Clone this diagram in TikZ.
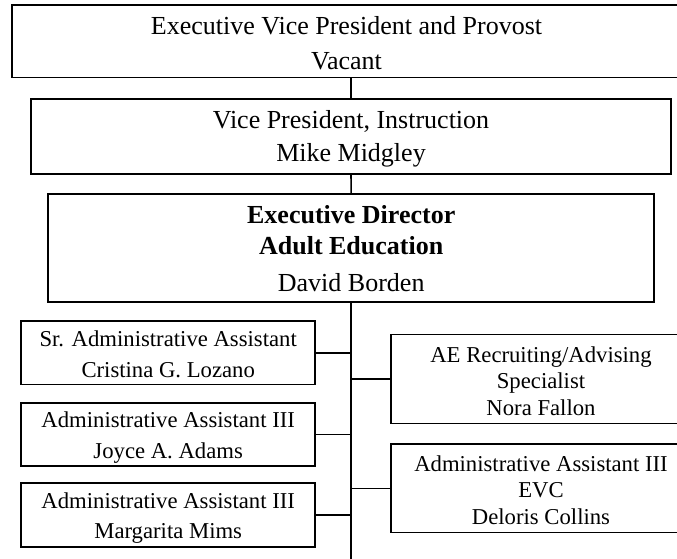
\documentclass[tikz,border=0pt]{standalone}
\usepackage{fontspec}
\setmainfont{Liberation Serif}
\newcommand{\topstrut}[1]{\rule{0pt}{#1}}
\begin{document}
\begin{tikzpicture}[x=1pt,y=-1pt,
  box/.style={draw=black, line width=1.6pt, rectangle, align=center, inner sep=0pt, outer sep=0pt},
  big/.style={box, font=\fontsize{26}{35}\selectfont},
  small/.style={box, font=\fontsize{22.7}{30.5}\selectfont},
  smallr/.style={box, font=\fontsize{22.7}{26.5}\selectfont},
  conn/.style={draw=black, line width=1.6pt}]
\useasboundingbox (0,0) rectangle (677,559);
\node[big, minimum width=669pt, minimum height=72.7pt] (evp) at (346.5,41.3)
  {\topstrut{20.8pt}Executive Vice President and Provost\\Vacant};
\node[big, font=\fontsize{26}{33}\selectfont, minimum width=640pt, minimum height=75pt] (vp) at (351,136.5)
  {\topstrut{22.8pt}Vice President, Instruction\\Mike Midgley};
\node[big, font=\fontsize{26}{31}\selectfont, minimum width=606pt, minimum height=108pt] (ed) at (351.2,248.2)
  {\textbf{Executive Director}\\\textbf{Adult Education}\\[6pt]David Borden};
\node[small, minimum width=294pt, minimum height=63.3pt] (sr) at (168.2,352.7)
  {\topstrut{18.5pt}Sr. Administrative Assistant\\Cristina G. Lozano};
\node[small, minimum width=294pt, minimum height=62.7pt] (ja) at (168.2,434.4)
  {\topstrut{22.5pt}Administrative Assistant III\\Joyce A. Adams};
\node[small, minimum width=294pt, minimum height=63.7pt] (mm) at (168.2,514.9)
  {\topstrut{22.5pt}Administrative Assistant III\\Margarita Mims};
\node[smallr, minimum width=300pt, minimum height=88.8pt] (ae) at (541,378.9)
  {\topstrut{19.5pt}AE Recruiting/Advising\\Specialist\\Nora Fallon};
\node[smallr, minimum width=300pt, minimum height=88.5pt] (evc) at (541,488.3)
  {\topstrut{19.5pt}Administrative Assistant III\\EVC\\Deloris Collins};
\coordinate (bottom) at (351.2,562);
\draw[conn] (vp.north) -- (vp.north |- evp.south);
\draw[conn] (vp.south) -- (ed.north);
\draw[conn] (ed.south) -- (bottom);
\draw[conn] (sr.east) -- (sr.east -| ed.south);
\draw[conn] (ja.east) -- (ja.east -| ed.south);
\draw[conn] (mm.east) -- (mm.east -| ed.south);
\draw[conn] (ae.west) -- (ae.west -| ed.south);
\draw[conn] (evc.west) -- (evc.west -| ed.south);
\end{tikzpicture}
\end{document}
